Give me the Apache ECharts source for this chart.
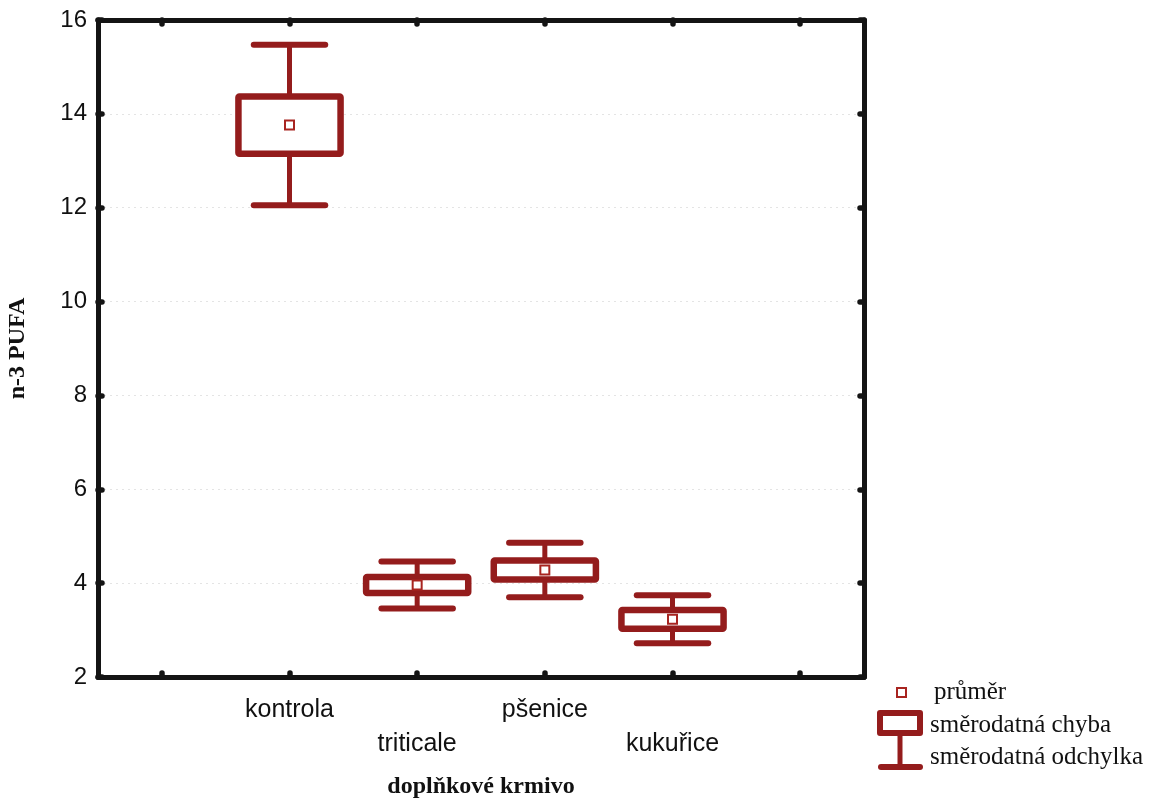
<!DOCTYPE html>
<html>
<head>
<meta charset="utf-8">
<title>n-3 PUFA – doplňkové krmivo</title>
<script src="https://cdn.jsdelivr.net/npm/echarts@6/dist/echarts.min.js"></script>
<style>
  html, body { margin: 0; padding: 0; background: #ffffff; }
  #chart { width: 1156px; height: 803px; }
</style>
</head>
<body>
<div id="chart"></div>
<script>
// Groups of supplementary feed
const categories = ['kontrola', 'triticale', 'pšenice', 'kukuřice'];
// Mean, standard error and standard deviation of n-3 PUFA per group
const means = [13.76, 3.96, 4.28, 3.23];
const stdErrors = [0.61, 0.17, 0.20, 0.20];
const stdDevs = [1.71, 0.50, 0.58, 0.51];
// Y axis ticks
const yMin = 2;
const yMax = 16;
const yStep = 2;

// Axis bands: an empty slot on each side of the four groups
const axisCategories = [' ', ...categories, '  '];

const BOX_COLOR = '#941c1c';
const MEAN_COLOR = '#a82420';
const AXIS_COLOR = '#141414';
const SANS = "'Liberation Sans', Arial, sans-serif";
const SERIF = "'Liberation Serif', 'Times New Roman', serif";

const seriesData = categories.map((c, i) => [c, means[i], stdErrors[i], stdDevs[i]]);

function renderBox(params, api) {
  const cat = api.value(0);
  const m = api.value(1);
  const se = api.value(2);
  const sd = api.value(3);
  const band = api.size([1, 0])[0];
  const boxW = band * 0.8;
  const capW = band * 0.56;
  const center = api.coord([cat, m]);
  const cx = center[0];
  const yBoxTop = api.coord([cat, m + se])[1];
  const yBoxBot = api.coord([cat, m - se])[1];
  const yTop = api.coord([cat, m + sd])[1];
  const yBot = api.coord([cat, m - sd])[1];
  const stemStyle = { stroke: BOX_COLOR, lineWidth: 5 };
  const capStyle = { stroke: BOX_COLOR, lineWidth: 6, lineCap: 'round' };
  return {
    type: 'group',
    children: [
      { type: 'line', shape: { x1: cx, y1: yBoxTop, x2: cx, y2: yTop }, style: stemStyle },
      { type: 'line', shape: { x1: cx, y1: yBoxBot, x2: cx, y2: yBot }, style: stemStyle },
      { type: 'line', shape: { x1: cx - capW / 2, y1: yTop, x2: cx + capW / 2, y2: yTop }, style: capStyle },
      { type: 'line', shape: { x1: cx - capW / 2, y1: yBot, x2: cx + capW / 2, y2: yBot }, style: capStyle },
      {
        type: 'rect',
        shape: { x: cx - boxW / 2, y: yBoxTop, width: boxW, height: yBoxBot - yBoxTop, r: 1 },
        style: { stroke: BOX_COLOR, lineWidth: 6.5, fill: '#ffffff', lineJoin: 'round' }
      },
      {
        type: 'rect',
        shape: { x: cx - 4.5, y: center[1] - 4.5, width: 9, height: 9 },
        style: { stroke: MEAN_COLOR, lineWidth: 2, fill: '#ffffff' }
      }
    ]
  };
}

const axisLineStyle = { color: AXIS_COLOR, width: 5, cap: 'round' };
const tickStyle = { color: AXIS_COLOR, width: 5.5, cap: 'round' };

const chart = echarts.init(document.getElementById('chart'), null, { renderer: 'canvas' });

chart.setOption({
  backgroundColor: '#ffffff',
  animation: false,
  grid: { left: 98, right: 292, top: 20, bottom: 126, outerBoundsMode: 'none', containLabel: false },
  xAxis: [
    {
      type: 'category',
      data: axisCategories,
      position: 'bottom',
      boundaryGap: true,
      name: 'doplňkové krmivo',
      nameLocation: 'middle',
      nameGap: 98,
      nameTextStyle: { fontFamily: SERIF, fontWeight: 'bold', fontSize: 24, color: '#111' },
      axisLine: { lineStyle: axisLineStyle },
      axisTick: { show: true, inside: true, length: 4, alignWithLabel: true, interval: 0, lineStyle: tickStyle },
      axisLabel: {
        interval: 0,
        margin: 21,
        fontFamily: SANS,
        fontSize: 25,
        color: '#111',
        formatter: function (value, index) {
          if (!value.trim()) return '';
          return index % 2 === 0 ? '{low|' + value + '}' : '{high|' + value + '}';
        },
        rich: {
          high: { fontFamily: SANS, fontSize: 25, color: '#111' },
          low: { fontFamily: SANS, fontSize: 25, color: '#111', padding: [34, 0, 0, 0] }
        }
      },
      splitLine: { show: false }
    },
    {
      type: 'category',
      data: axisCategories,
      position: 'top',
      boundaryGap: true,
      axisLine: { lineStyle: axisLineStyle },
      axisTick: { show: true, inside: true, length: 4, alignWithLabel: true, interval: 0, lineStyle: tickStyle },
      axisLabel: { show: false },
      splitLine: { show: false }
    }
  ],
  yAxis: [
    {
      type: 'value',
      min: yMin,
      max: yMax,
      interval: yStep,
      position: 'left',
      name: 'n-3 PUFA',
      nameLocation: 'middle',
      nameGap: 68,
      nameTextStyle: { fontFamily: SERIF, fontWeight: 'bold', fontSize: 24, color: '#111' },
      axisLine: { show: true, lineStyle: axisLineStyle },
      axisTick: { show: true, inside: true, length: 4, lineStyle: tickStyle },
      axisLabel: { margin: 11, fontFamily: SANS, fontSize: 24, color: '#111' },
      splitLine: { show: true, lineStyle: { color: '#e4e4e4', width: 1, type: [2, 4] } }
    },
    {
      type: 'value',
      min: yMin,
      max: yMax,
      interval: yStep,
      position: 'right',
      axisLine: { show: true, lineStyle: axisLineStyle },
      axisTick: { show: true, inside: true, length: 4, lineStyle: tickStyle },
      axisLabel: { show: false },
      splitLine: { show: false }
    }
  ],
  series: [
    {
      type: 'custom',
      name: 'n-3 PUFA',
      xAxisIndex: 0,
      yAxisIndex: 0,
      renderItem: renderBox,
      encode: { x: 0, y: [1] },
      data: seriesData,
      z: 5
    }
  ],
  graphic: [
    // legend: mean marker
    {
      type: 'rect', left: 896, top: 687, z: 10,
      shape: { x: 0, y: 0, width: 9, height: 9 },
      style: { stroke: MEAN_COLOR, lineWidth: 2, fill: '#ffffff' }
    },
    {
      type: 'text', left: 934, top: 680, z: 10,
      style: { text: 'průměr', fontFamily: SERIF, fontSize: 25, fill: '#111' }
    },
    // legend: standard error box
    {
      type: 'rect', z: 10,
      shape: { x: 880, y: 713, width: 40, height: 20 },
      style: { stroke: BOX_COLOR, lineWidth: 6, fill: '#ffffff', lineJoin: 'round' }
    },
    {
      type: 'text', left: 930, top: 713, z: 10,
      style: { text: 'směrodatná chyba', fontFamily: SERIF, fontSize: 25, fill: '#111' }
    },
    // legend: standard deviation whisker
    {
      type: 'line', z: 9,
      shape: { x1: 900, y1: 736, x2: 900, y2: 767 },
      style: { stroke: BOX_COLOR, lineWidth: 5 }
    },
    {
      type: 'line', z: 10,
      shape: { x1: 881, y1: 767, x2: 920, y2: 767 },
      style: { stroke: BOX_COLOR, lineWidth: 6, lineCap: 'round' }
    },
    {
      type: 'text', left: 930, top: 745, z: 10,
      style: { text: 'směrodatná odchylka', fontFamily: SERIF, fontSize: 25, fill: '#111' }
    }
  ]
});
</script>
</body>
</html>
